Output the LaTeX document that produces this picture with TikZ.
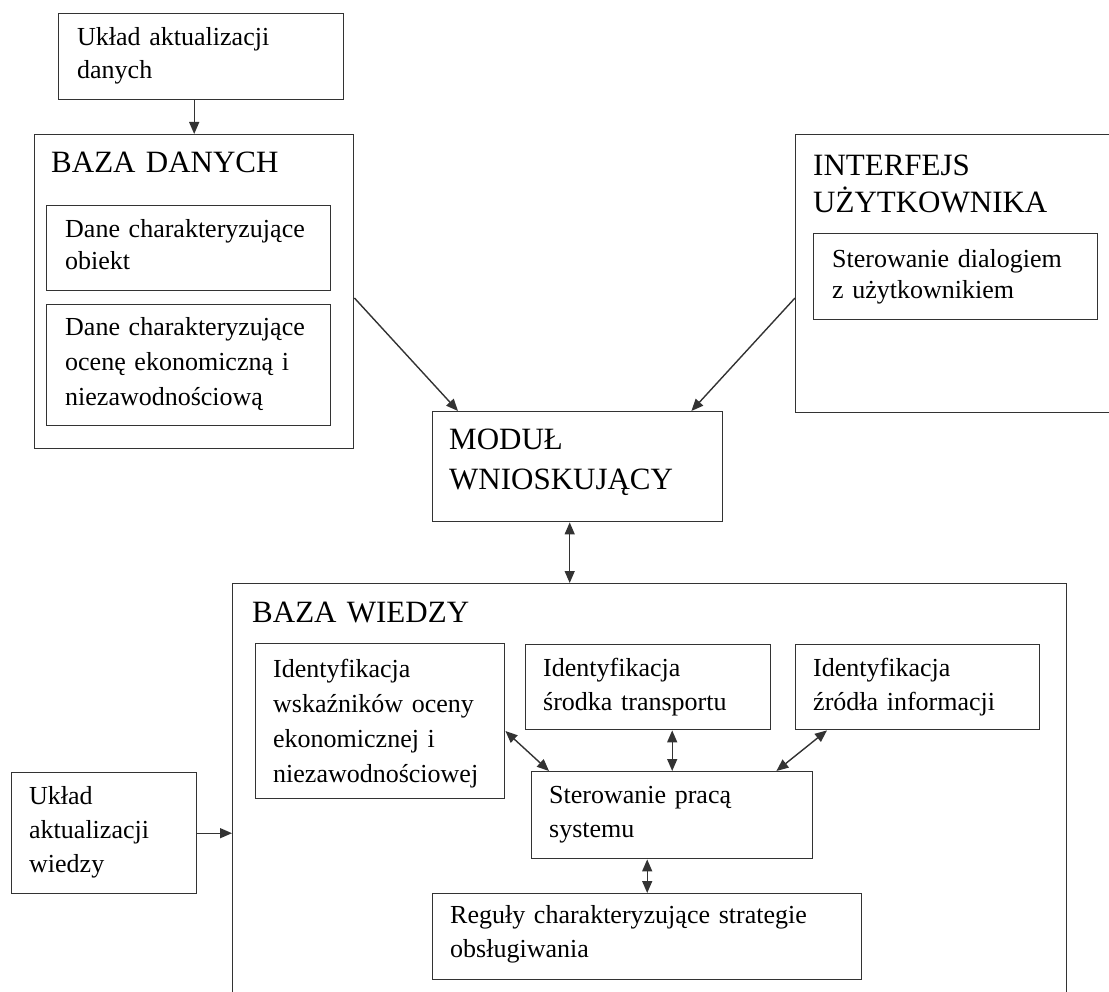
\documentclass[tikz,border=0pt]{standalone}
\usepackage{fontspec}
\setmainfont{Liberation Serif}
\usetikzlibrary{calc,arrows.meta}

\begin{document}
\begin{tikzpicture}[x=1pt,y=-1pt,
  panel/.style={draw=black!80, line width=1.4pt, rectangle, inner sep=0pt,
                anchor=north west},
  % body text and block headings; the argument is the line pitch
  body/.style={anchor=north west, inner sep=0pt, text width=420pt, align=left,
               font=\fontsize{26}{#1}\selectfont},
  body/.default=34,
  head/.style={anchor=north west, inner sep=0pt, text width=420pt, align=left,
               font=\fontsize{31}{#1}\selectfont},
  head/.default=39,
  conn/.style={draw=black!80, line width=1.4pt},
  tip/.style={Triangle[length=12pt,width=10pt]},
  arr/.style={conn, -{Triangle[length=12pt,width=10pt]}},
  dbl/.style={conn, {Triangle[length=12pt,width=10pt]}-{Triangle[length=12pt,width=10pt]}},
]
\useasboundingbox (0,0) rectangle (1109,992);
\clip (0,0) rectangle (1109,992);

% ---------- boxes ----------
\node[panel, minimum width=285pt, minimum height=86pt]  (ukld) at (58,13)   {};
\node[panel, minimum width=319pt, minimum height=314pt] (bd)   at (34,134)  {};
\node[panel, minimum width=284pt, minimum height=85pt]  (bd1)  at (46,205)  {};
\node[panel, minimum width=284pt, minimum height=121pt] (bd2)  at (46,304)  {};
\node[panel, minimum width=284pt, minimum height=86pt]  (ui1)  at (813,233) {};
\node[panel, minimum width=290pt, minimum height=110pt] (mw)   at (432,411) {};
\node[panel, minimum width=249pt, minimum height=155pt] (bw1)  at (255,643) {};
\node[panel, minimum width=245pt, minimum height=85pt]  (bw2)  at (525,644) {};
\node[panel, minimum width=244pt, minimum height=85pt]  (bw3)  at (795,644) {};
\node[panel, minimum width=281pt, minimum height=87pt]  (sp)   at (531,771) {};
\node[panel, minimum width=429pt, minimum height=86pt]  (rg)   at (432,893) {};
\node[panel, minimum width=185pt, minimum height=121pt] (ukw)  at (11,772)  {};
% blocks that run past the page edge
\node[panel, minimum width=345pt, minimum height=278pt] (ui)   at (795,134) {};
\node[panel, minimum width=834pt, minimum height=440pt] (bw)   at (232,583) {};

% ---------- texts (top edge = first baseline minus strut height) ----------
\node[body=33] (t-ukld) at (77,21)  {\rule{0pt}{24pt}Układ aktualizacji\\danych};
\node[head]    (t-bd)   at (51,143) {\rule{0pt}{29pt}BAZA DANYCH};
\node[body=32] (t-bd1)  at (65,213) {\rule{0pt}{24pt}Dane charakteryzujące\\obiekt};
\node[body=35] (t-bd2)  at (65,311) {\rule{0pt}{24pt}Dane charakteryzujące\\ocenę ekonomiczną i\\niezawodnościową};
\node[head=37] (t-ui)   at (813,146) {\rule{0pt}{29pt}INTERFEJS\\UŻYTKOWNIKA};
\node[body=31] (t-ui1)  at (832,243) {\rule{0pt}{24pt}Sterowanie dialogiem\\z użytkownikiem};
\node[head=40] (t-mw)   at (449,420) {\rule{0pt}{29pt}MODUŁ\\WNIOSKUJĄCY};
\node[head]    (t-bw)   at (252,593) {\rule{0pt}{29pt}BAZA WIEDZY};
\node[body=35] (t-bw1)  at (273,653) {\rule{0pt}{24pt}Identyfikacja\\wskaźników oceny\\ekonomicznej i\\niezawodnościowej};
\node[body]    (t-bw2)  at (543,652) {\rule{0pt}{24pt}Identyfikacja\\środka transportu};
\node[body]    (t-bw3)  at (813,652) {\rule{0pt}{24pt}Identyfikacja\\źródła informacji};
\node[body]    (t-sp)   at (549,779) {\rule{0pt}{24pt}Sterowanie pracą\\systemu};
\node[body]    (t-rg)   at (450,899) {\rule{0pt}{24pt}Reguły charakteryzujące strategie\\obsługiwania};
\node[body]    (t-ukw)  at (29,780)  {\rule{0pt}{24pt}Układ\\aktualizacji\\wiedzy};

% ---------- connectors ----------
\draw[arr] (bd.north |- ukld.south) -- (bd.north);
\draw[arr] ($(bd.north east)+(0,164)$) -- ($(mw.north west)+(26,0)$);
\draw[arr] ($(ui.north west)+(0,164)$) -- ($(mw.north east)+(-32,0)$);
\draw[dbl] ($(mw.south)+(-8,0)$) coordinate (mwb) -- (mwb |- bw.north);
\draw[arr] (ukw.east) -- (bw.west |- ukw.east);
\draw[dbl] ($(bw1.north east)+(0,88)$) -- ($(sp.north west)+(18,0)$);
\draw[dbl] (sp.north |- bw2.south) -- (sp.north);
\draw[dbl] ($(bw3.south west)+(32,0)$) -- ($(sp.north east)+(-37,0)$);
\draw[dbl] (rg.north |- sp.south) -- (rg.north);
\end{tikzpicture}
\end{document}
